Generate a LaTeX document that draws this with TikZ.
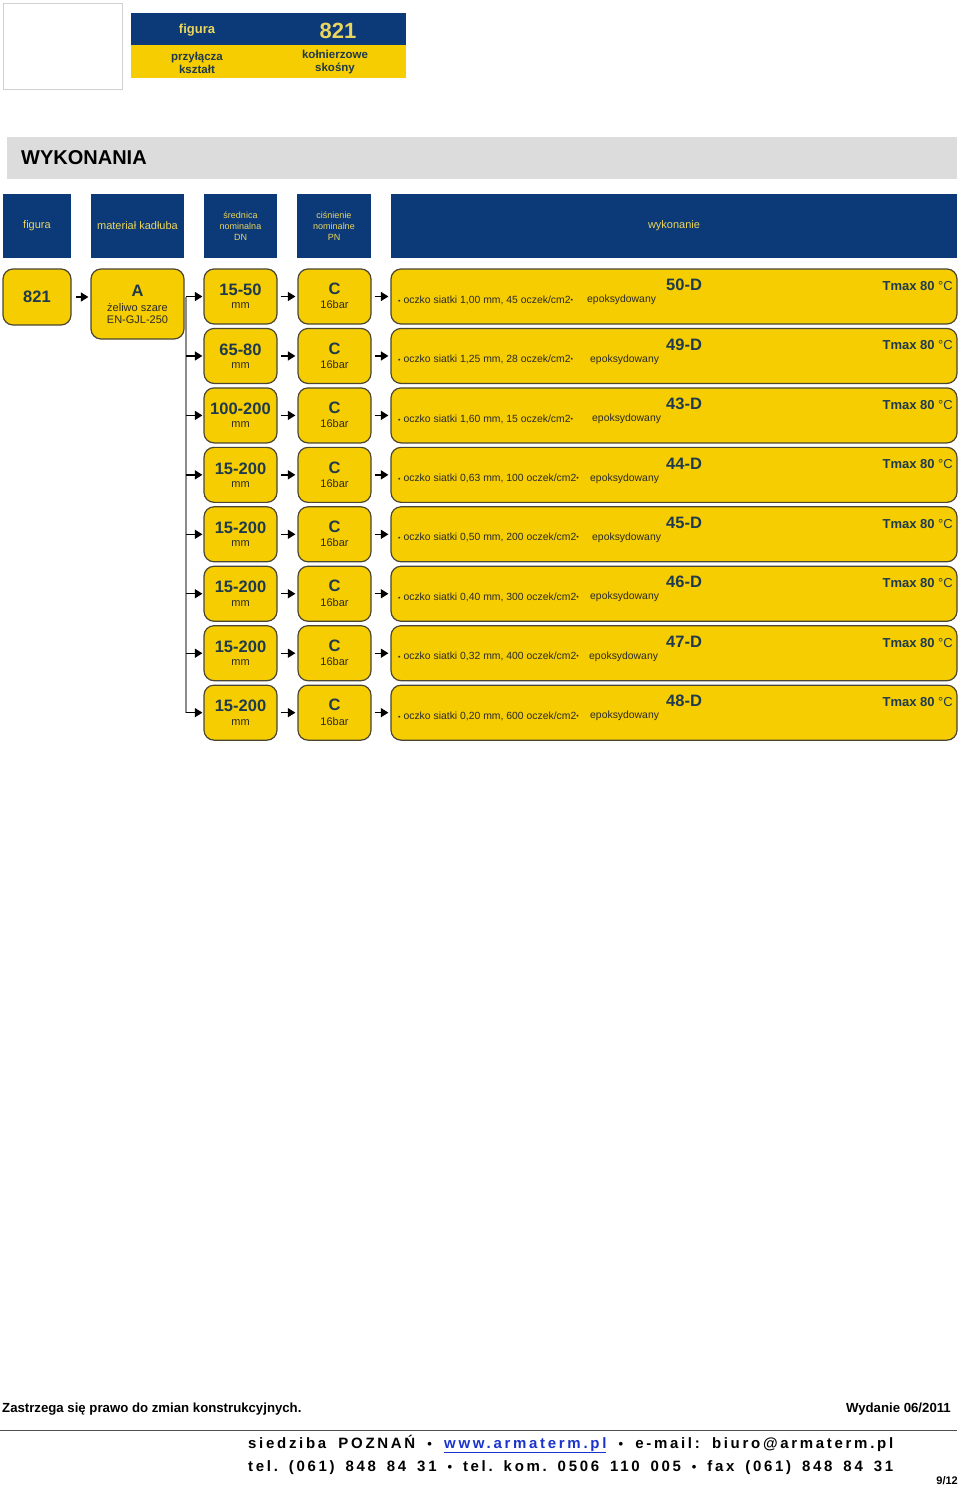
\documentclass[tikz,border=0pt]{standalone}
\usepackage{fontspec}
\setmainfont{Liberation Sans}
\newfontfamily\spacedfont[LetterSpace=18]{Liberation Sans}
\usetikzlibrary{arrows.meta}
\definecolor{navy}{HTML}{0C3A79}
\definecolor{gold}{HTML}{F6CD00}
\definecolor{boxline}{HTML}{4A4632}
\definecolor{hdrtxt}{HTML}{EAD65C}
\definecolor{darktxt}{HTML}{1F3A4C}
\definecolor{bodytxt}{HTML}{2A2A2A}
\definecolor{trunk}{HTML}{8C8C8C}
\definecolor{linkblue}{HTML}{1A33CC}
\newcommand\fsz[1]{\fontsize{#1}{#1}\selectfont}
\hbadness=10000
\frenchspacing
\begin{document}
\begin{tikzpicture}[x=1pt,y=-1pt,
  ybox/.style={draw=boxline, fill=gold, rounded corners=10pt, line width=1.2pt, inner sep=0pt},
  hbox/.style={fill=navy, inner sep=0pt, text=hdrtxt, align=center},
  arr/.style={draw=black, line width=1.3pt, -{Triangle[length=7.5pt,width=9pt]}},
  big/.style={inner sep=0pt, text=darktxt, font=\fsz{16.5}\bfseries},
  small/.style={inner sep=0pt, text=bodytxt, font=\fsz{11}},
  tiny/.style={inner sep=0pt, text=bodytxt, font=\fsz{10.4}}
]
\useasboundingbox (0,0) rectangle (960,1489);

% top left empty box
\node[draw={rgb,255:red,208;green,208;blue,208}, fill=white, line width=1pt, minimum width=119pt, minimum height=86pt, inner sep=0pt] (logo) at (62.5,46) {};

% title header
\node[fill=navy, minimum width=275pt, minimum height=32pt, inner sep=0pt] (tb) at (268.5,29) {};
\node[fill=gold, minimum width=275pt, minimum height=33pt, inner sep=0pt] (ty) at (268.5,61.5) {};
\node[inner sep=0pt, text=hdrtxt, font=\fsz{13}\bfseries] at (197,30) {figura};
\node[inner sep=0pt, text=hdrtxt, font=\fsz{22}\bfseries] at (338,31) {821};
\node[inner sep=0pt, text=darktxt, font=\fontsize{11.5}{13}\selectfont\bfseries, align=center] at (197,62.5) {przyłącza\\kształt};
\node[inner sep=0pt, text=darktxt, font=\fontsize{11.5}{13}\selectfont\bfseries, align=center] at (335,62.5) {kołnierzowe\\skośny};

% WYKONANIA band
\node[fill={rgb,255:red,220;green,220;blue,220}, minimum width=950pt, minimum height=42pt, inner sep=0pt] (band) at (482,158) {};
\node[inner sep=0pt, anchor=west, font=\fsz{20}\bfseries] at (21,158) {WYKONANIA};

% column headers
\node[hbox, minimum width=68pt, minimum height=64pt, font=\fsz{11}] (h1) at (37,226) {figura};
\node[hbox, minimum width=93pt, minimum height=64pt, font=\fsz{11}] (h2) at (137.5,226) {materiał kadłuba};
\node[hbox, minimum width=73pt, minimum height=64pt, font=\fontsize{9}{11}\selectfont] (h3) at (240.5,226) {średnica\\nominalna\\DN};
\node[hbox, minimum width=74pt, minimum height=64pt, font=\fontsize{9}{11}\selectfont] (h4) at (334,226) {ciśnienie\\nominalne\\PN};
\node[hbox, minimum width=566pt, minimum height=64pt, font=\fsz{11}] (h5) at (674,226) {wykonanie};

% figure and material
\node[ybox, minimum width=68pt, minimum height=56pt, text=darktxt, font=\fsz{16.5}\bfseries] (fig) at (37,297) {821};
\node[ybox, minimum width=93pt, minimum height=70pt] (mat) at (137.5,304) {};
\node[big] at (137.5,291) {A};
\node[small] at (137.5,307.5) {żeliwo szare};
\node[small] at (137.5,320) {EN-GJL-250};

\draw[arr, shorten <=4pt, shorten >=2pt] (fig.east) -- (fig.east -| mat.west);

% trunk
\coordinate (ttop) at (186,296.5);
\coordinate (tbot) at (186,712.65);
\draw[draw=trunk, line width=1.2pt] (ttop) -- (tbot);

\foreach \i/\dn/\mm/\n/\ep/\code in {1/15-50/{1,00}/45/587/50-D, 2/65-80/{1,25}/28/590/49-D, 3/100-200/{1,60}/15/592/43-D, 4/15-200/{0,63}/100/590/44-D, 5/15-200/{0,50}/200/592/45-D, 6/15-200/{0,40}/300/590/46-D, 7/15-200/{0,32}/400/589/47-D, 8/15-200/{0,20}/600/590/48-D}{
  \pgfmathsetmacro\ry{296.5+59.45*(\i-1)}
  \coordinate (br\i) at (186,\ry);
  \node[ybox, minimum width=73pt, minimum height=55pt] (dn\i) at (240.5,\ry) {};
  \node[big] at ([yshift=6.5pt]dn\i.center) {\dn};
  \node[small] at ([yshift=-9.5pt]dn\i.center) {mm};
  \node[ybox, minimum width=73pt, minimum height=55pt] (pn\i) at (334.5,\ry) {};
  \node[big] at ([yshift=7.5pt]pn\i.center) {C};
  \node[small] at ([yshift=-8.5pt]pn\i.center) {16bar};
  \node[ybox, minimum width=566pt, minimum height=55pt] (wk\i) at (674,\ry) {};
  \node[tiny, anchor=west] at (398,\ry+3.5) {{\fsz{7}•} oczko siatki \mm\ mm, \n\ oczek/cm2{\fsz{7}\raisebox{1pt}{•}}};
  \node[tiny, anchor=west] at (\ep,\ry+3.5) {epoksydowany};
  \node[big, anchor=west] at (666,\ry-11.5) {\code};
  \node[inner sep=0pt, anchor=east, text=darktxt, font=\fsz{13}] at (953,\ry-10.5) {\textbf{Tmax 80} °C};
  \draw[arr, shorten >=1pt] (br\i) -- (dn\i.west);
  \draw[arr, shorten <=3pt, shorten >=2pt] (dn\i.east) -- (pn\i.west);
  \draw[arr, shorten <=3pt, shorten >=2pt] (pn\i.east) -- (wk\i.west);
}

% footer
\node[inner sep=0pt, anchor=west, font=\fsz{13.2}\bfseries] (note) at (2,1409) {Zastrzega się prawo do zmian konstrukcyjnych.};
\node[inner sep=0pt, anchor=east, font=\fsz{13.2}\bfseries] (ed) at (951,1409) {Wydanie 06/2011};
\coordinate (rl) at (0,1430);
\coordinate (rr) at (957,1430);
\draw[draw={rgb,255:red,80;green,80;blue,80}, line width=1pt] (rl) -- (rr);
\node[inner sep=0pt, anchor=west, font=\spacedfont\fsz{15}\bfseries] (addr1) at (248,1444) {\makebox[645pt][s]{siedziba POZNAŃ {\fsz{13}•} \textcolor{linkblue}{\underline{www.armaterm.pl}} {\fsz{13}•} e-mail: biuro@armaterm.pl}};
\node[inner sep=0pt, anchor=west, font=\spacedfont\fsz{15}\bfseries] (addr2) at (248,1468) {\makebox[645pt][s]{tel. (061) 848 84 31 {\fsz{13}•} tel. kom. 0506 110 005 {\fsz{13}•} fax (061) 848 84 31}};
\node[inner sep=0pt, anchor=east, font=\fsz{11}\bfseries] (pg) at (958,1481) {9/12};
\end{tikzpicture}
\end{document}
